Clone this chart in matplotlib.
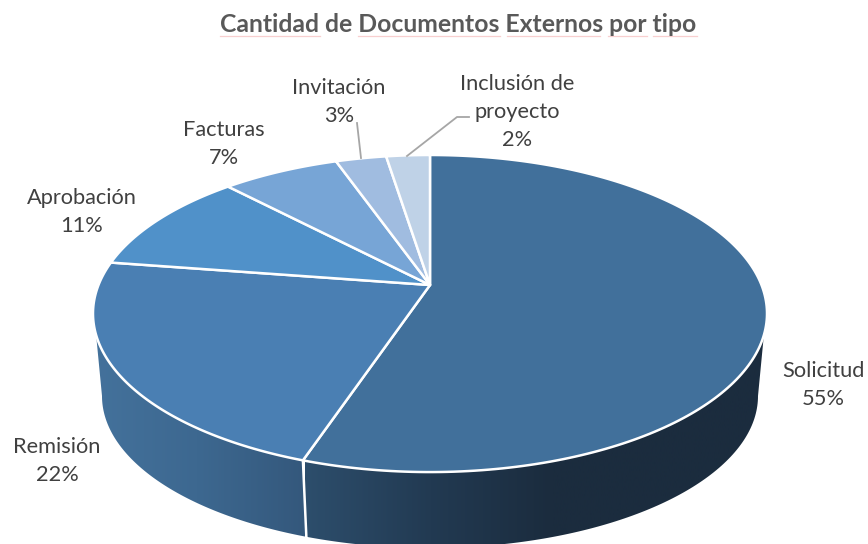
import matplotlib
matplotlib.use('Agg')
import matplotlib.pyplot as plt
import numpy as np
from matplotlib.colors import LinearSegmentedColormap
from matplotlib.patches import Polygon

plt.rcParams['font.family'] = ['Lato', 'DejaVu Sans']

# data
categories = ['Solicitud', 'Remisión', 'Aprobación', 'Facturas', 'Invitación', 'Inclusión de\nproyecto']
shares = [55.15, 22.25, 10.51, 6.71, 2.89, 2.49]
colors = ['#41709b', '#4a7fb3', '#5091c9', '#77a5d6', '#a0bce0', '#bfd2e7']
title = 'Cantidad de Documentos Externos por tipo'

# where each label sits, in pixels
label_pos = [(823, 385), (57, 461), (82, 212), (224, 144), (339, 102), (517, 112)]

# spell-check squiggle under the title words, in pixels
underlines = [(220, 320), (358, 500), (507, 600), (608, 647), (653, 697)]

W, H = 868, 544

# perspective of the pie, fitted to the picture
hub_x, hub_y = 430, 285
ell_y, ell_rx, ell_ry = 313.5, 337, 158.5
low_y, low_rx, low_ry = 396, 328, 152
k = 0.18
a = 153.4
b = ell_rx * np.sqrt(1 - k ** 2)


def project(theta):
    # theta clockwise from 12 o'clock, on the tilted circle
    u, v = np.sin(theta), np.cos(theta)
    den = 1 + k * v
    return hub_x + b * u / den, hub_y - a * v / den


def top_arc(t):
    return hub_x + ell_rx * np.cos(t), ell_y + ell_ry * np.sin(t)


def low_arc(t):
    return hub_x + low_rx * np.cos(t), low_y + low_ry * np.sin(t)


def side_shape(ax, t_top, t_low, cols, x0, x1):
    xt, yt = top_arc(t_top)
    xl, yl = low_arc(t_low)
    pts = np.column_stack([np.r_[xt, xl], np.r_[yt, yl]])
    cmap = LinearSegmentedColormap.from_list('side', cols)
    im = ax.imshow(np.linspace(0, 1, 256)[None, :], cmap=cmap, aspect='auto',
                   extent=(x0, x1, H, 0), zorder=1, interpolation='bilinear')
    im.set_clip_path(Polygon(pts, transform=ax.transData))


fig = plt.figure(figsize=(W / 100, H / 100), dpi=100)
ax = fig.add_axes([0, 0, 1, 1])

edges = np.cumsum([0] + shares) / sum(shares) * 2 * np.pi

# side walls, split where the first slice ends
sx, sy = project(edges[1])
t_split = np.arctan2((sy - ell_y) / ell_ry, (sx - hub_x) / ell_rx)
t_edge = 0.136
side_shape(ax, np.linspace(t_edge, t_split, 120), np.linspace(t_split, 0, 120),
           [(0, '#1b2c3e'), (0.47, '#1b2c3e'), (0.73, '#223a52'), (1, '#2d4e6c')], 770, 305)
side_shape(ax, np.linspace(t_split, np.pi - t_edge, 120), np.linspace(np.pi, t_split, 120),
           ['#34587c', '#3d6890', '#44729c'], 305, 90)
lx, ly = low_arc(t_split)
ax.plot([sx, lx], [sy, ly], color='white', lw=1.8, zorder=2)

# top face
for i in range(len(shares)):
    th = np.linspace(edges[i], edges[i + 1], 200)
    x, y = project(th)
    ax.fill(np.r_[hub_x, x], np.r_[hub_y, y], facecolor=colors[i], edgecolor='white',
            lw=1.8, joinstyle='round', zorder=3)

# labels
for name, share, (px, py) in zip(categories, shares, label_pos):
    ax.text(px, py, '%s\n%d%%' % (name, round(share)), ha='center', va='center',
            fontsize=15.7, color='#404040', linespacing=1.5, zorder=5)

# leader lines
ax.plot([357, 361], [123, 158], color='#a6a6a6', lw=1.3, zorder=4)
ax.plot([469, 457, 407], [117, 117, 156], color='#a6a6a6', lw=1.3, zorder=4)

ax.text(458, 24, title, ha='center', va='center', fontsize=17.8, fontweight='bold', color='#595959')
for x0, x1 in underlines:
    ax.plot([x0, x1], [35.5, 35.5], color='#f8cfcf', lw=0.9, zorder=1)

ax.set_xlim(0, W)
ax.set_ylim(H, 0)
ax.axis('off')

fig.savefig('out.png', dpi=100)
